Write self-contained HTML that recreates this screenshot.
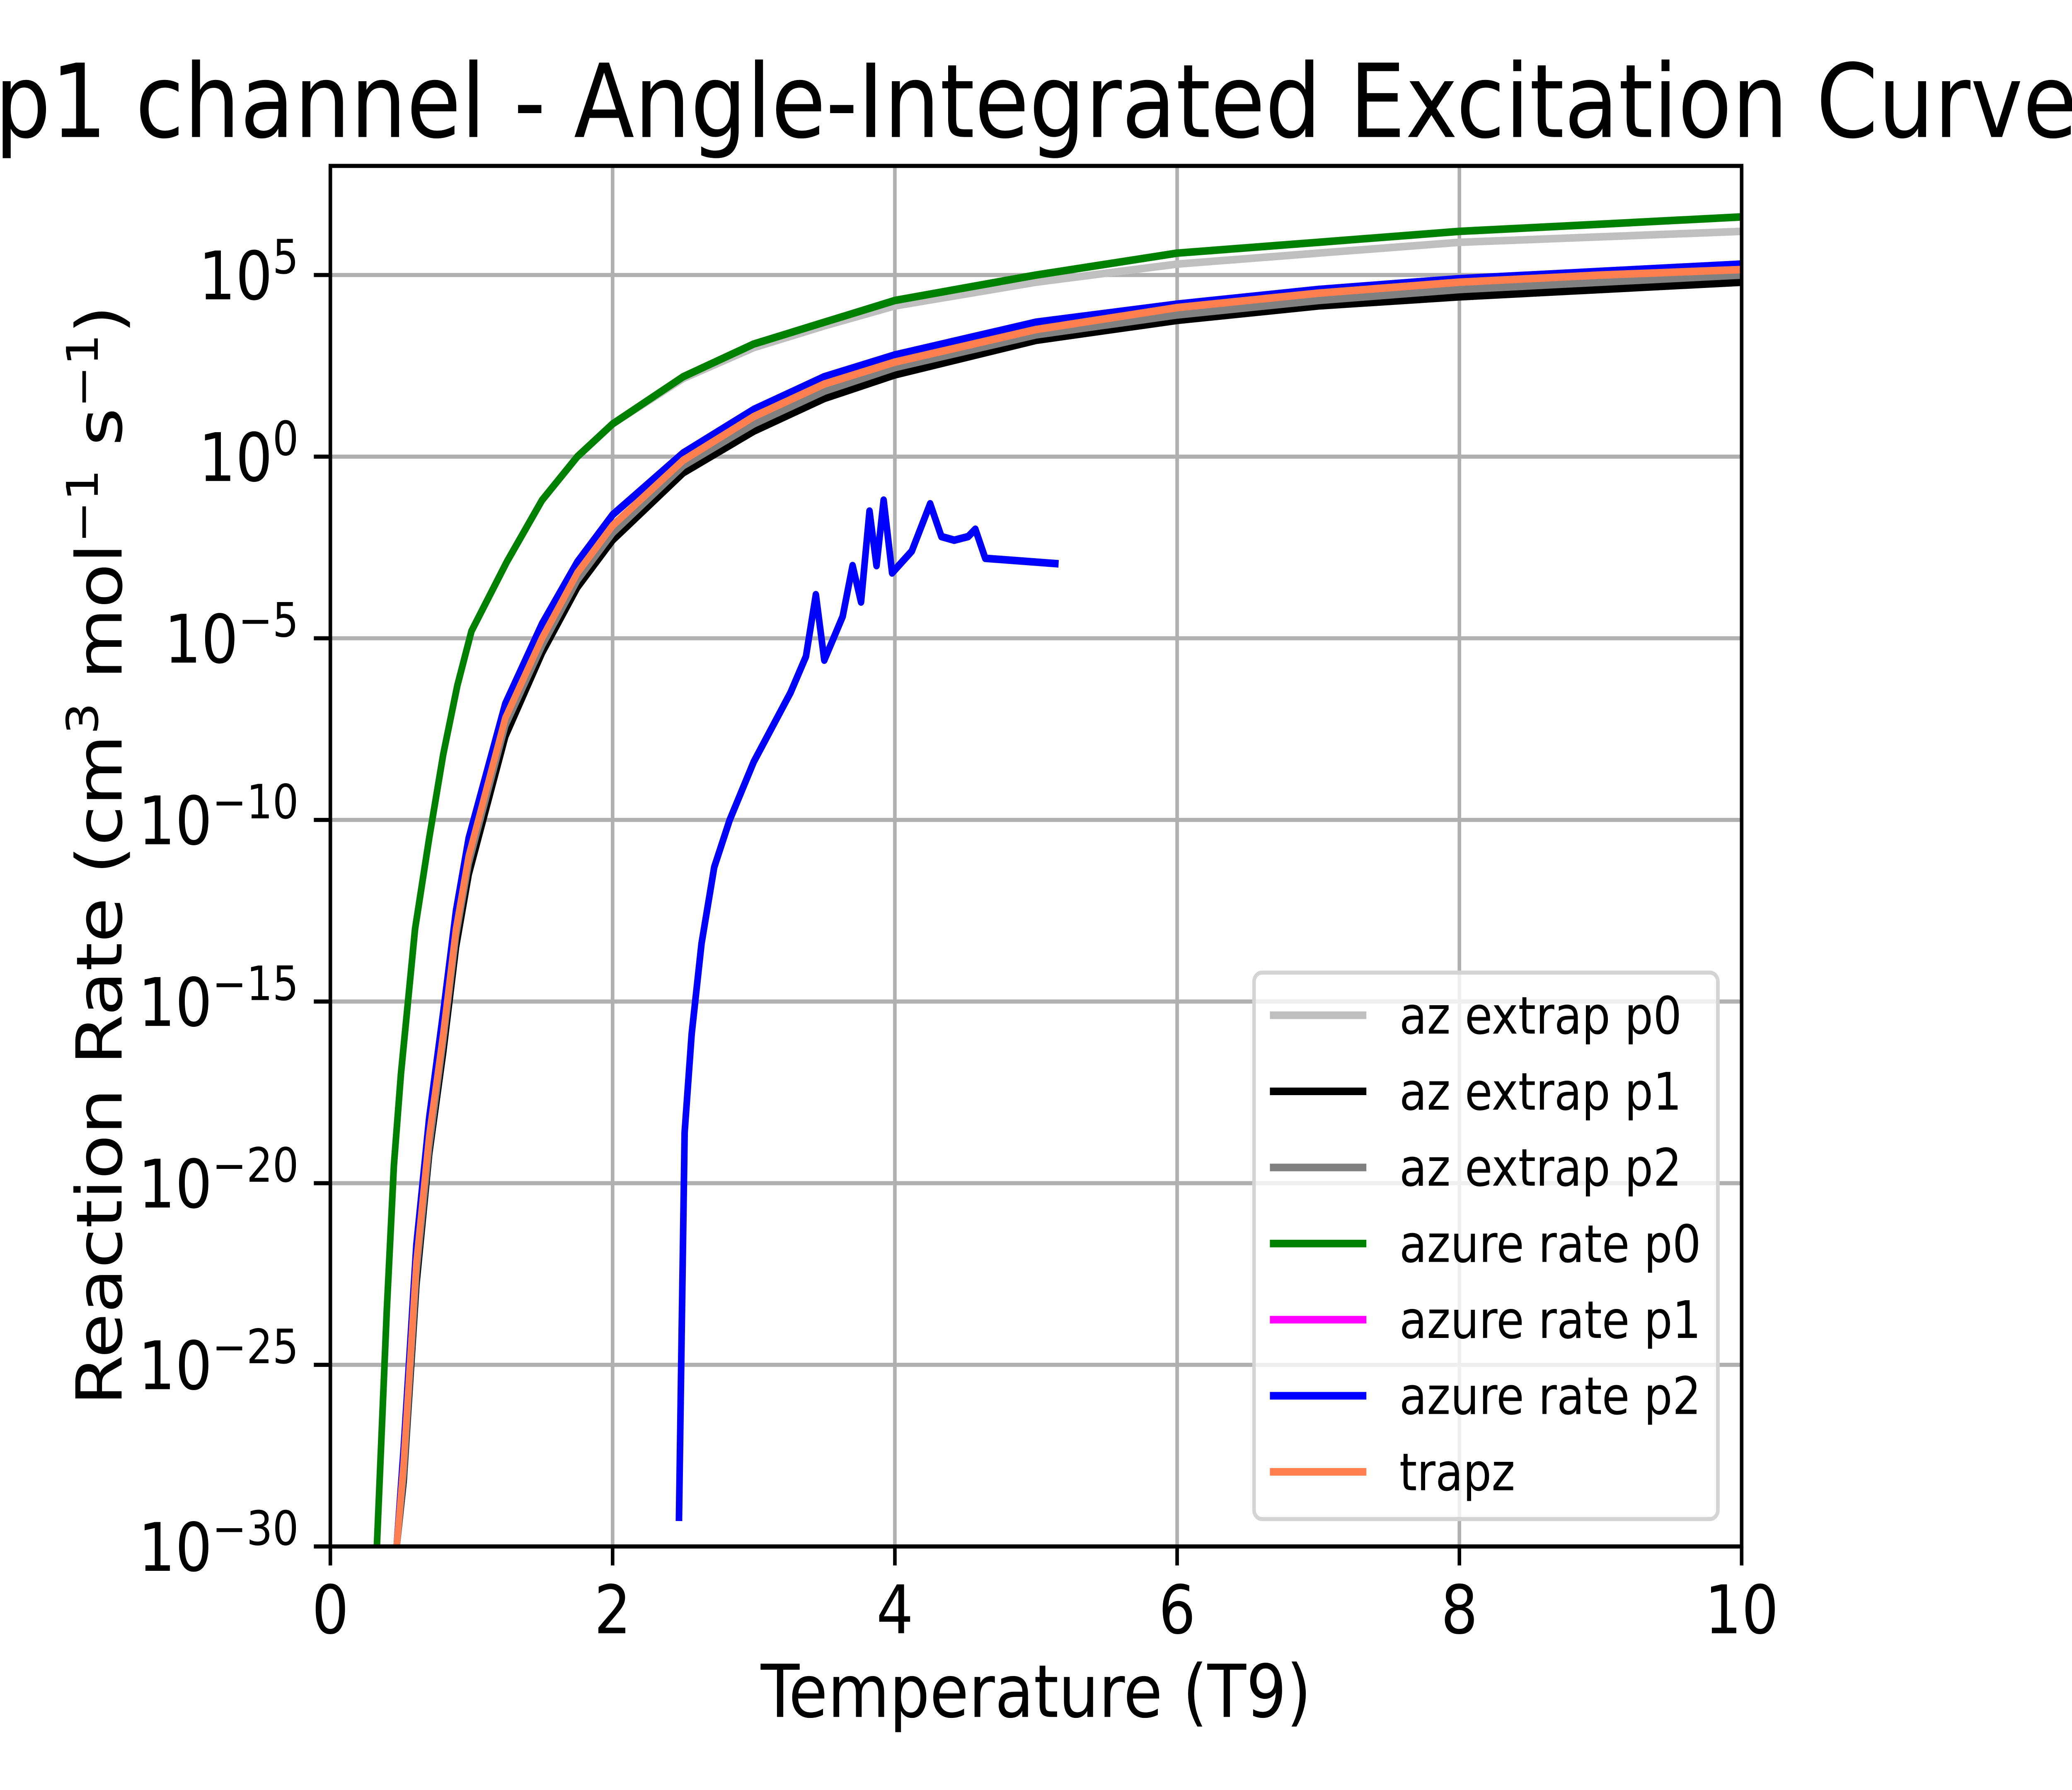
<!DOCTYPE html>
<html><head><meta charset="utf-8"><style>
html,body{margin:0;padding:0;background:#fff;overflow:hidden;width:100%;height:100%}
svg{display:block;width:100vw;height:100vh}
text{font-family:"DejaVu Sans","Liberation Sans",sans-serif}
</style></head><body>
<svg id="chart" xmlns="http://www.w3.org/2000/svg" viewBox="0 0 1568 1176" preserveAspectRatio="none">
<defs><clipPath id="clip"><rect x="250" y="109" width="1068" height="907"/></clipPath></defs>
<rect width="1568" height="1176" fill="#fff"/>
<text x="784" y="90" font-size="67" text-anchor="middle">p1 channel - Angle-Integrated Excitation Curve</text>
<g id="grid"></g>
<g id="series" clip-path="url(#clip)"></g>
<g id="legend"></g>
<rect x="250" y="109" width="1068" height="907" fill="none" stroke="#000" stroke-width="2.7"/>
<g id="ticks"></g>
<text x="784" y="1128" font-size="48" text-anchor="middle">Temperature (T9)</text>
<text transform="translate(92,562) rotate(-90)" font-size="48" text-anchor="middle">Reaction Rate (cm<tspan dy="-18" font-size="33">3</tspan><tspan dy="18"> mol</tspan><tspan dy="-18" font-size="33">−1</tspan><tspan dy="18"> s</tspan><tspan dy="-18" font-size="33">−1</tspan><tspan dy="18">)</tspan></text>
</svg>
<script>
const xTicks=[0,2,4,6,8,10];
const yTicks=[-30,-25,-20,-15,-10,-5,0,5];
const tGreen=[0.33,0.4,0.45,0.5,0.6,0.7,0.8,0.9,1.0,1.25,1.5,1.75,2,2.5,3,3.5,4,5,6,7,8,9,10];
const azureP0=[-30,-23.5,-19.5,-17,-13,-10.5,-8.2,-6.3,-4.8,-2.9,-1.2,0,0.9,2.2,3.1,3.7,4.3,5.0,5.6,5.9,6.2,6.4,6.6];
const azExtrapP0=[-30,-23.5,-19.5,-17,-13,-10.5,-8.2,-6.3,-4.8,-2.9,-1.2,0,0.9,2.15,3.0,3.6,4.15,4.8,5.3,5.6,5.9,6.05,6.2];
const tLow=[0.47,0.52,0.61,0.70,0.80,0.89,0.98,1.24,1.5,1.75,2,2.5,3,3.5,4,5,6,7,8,9,10];
const trapz=[-30,-27.7,-22.2,-18.7,-15.9,-13,-11,-7.2,-5,-3.2,-1.9,-0.1,1.1,2.0,2.6,3.5,4.1,4.5,4.8,5.0,5.15];
const azExtrapP1=[-30,-28.2,-22.8,-19.2,-16.4,-13.5,-11.5,-7.7,-5.4,-3.6,-2.3,-0.45,0.7,1.6,2.25,3.2,3.75,4.15,4.4,4.6,4.8];
const azExtrapP2=[-30,-28,-22.5,-19,-16.1,-13.2,-11.2,-7.4,-5.2,-3.4,-2.1,-0.25,0.9,1.8,2.45,3.35,3.9,4.3,4.6,4.8,5.0];
const azureP2=[-30,-27.3,-21.7,-18.2,-15.3,-12.5,-10.5,-6.8,-4.6,-2.9,-1.6,0.1,1.3,2.2,2.8,3.7,4.2,4.6,4.9,5.1,5.3];
const azureP1=azureP2;
const tNoisy=[2.47,2.49,2.51,2.56,2.63,2.72,2.83,3.0,3.26,3.37,3.44,3.5,3.63,3.70,3.76,3.82,3.87,3.92,3.98,4.12,4.25,4.33,4.42,4.52,4.57,4.64,5.16];
const noisyP2=[-29.3,-24,-18.6,-15.9,-13.4,-11.3,-10,-8.4,-6.5,-5.5,-3.8,-5.6,-4.4,-3.0,-4.0,-1.5,-3.0,-1.2,-3.2,-2.6,-1.3,-2.2,-2.3,-2.2,-2.0,-2.8,-2.95];

const X0=250,X1=1318,Y0=1016,YTOP=109;
const xs=t=>X0+(t-0)/10*(X1-X0);
const ys=l=>Y0-(l+30)*((1016-300)/30);
const NS="http://www.w3.org/2000/svg";
function mk(tag,attrs,parent){const e=document.createElementNS(NS,tag);for(const k in attrs)e.setAttribute(k,attrs[k]);parent.appendChild(e);return e;}
const grid=document.getElementById('grid'),ticks=document.getElementById('ticks');
xTicks.forEach(v=>{
  const gl=mk('line',{x1:xs(v),x2:xs(v),y1:YTOP,y2:Y0,stroke:'#b0b0b0','stroke-width':2.7},grid);
  
  
  const tk=mk('line',{x1:xs(v),x2:xs(v),y1:Y0,y2:Y0+12.5,stroke:'#000','stroke-width':2.7},ticks);
  
  
  const tx=mk('text',{x:xs(v),y:Y0+57,'font-size':44,'text-anchor':'middle'},ticks);
  tx.textContent=v;
  
  
});
yTicks.forEach(v=>{
  const y=ys(v);
  const gl=mk('line',{x1:X0,x2:X1,y1:y,y2:y,stroke:'#b0b0b0','stroke-width':2.7},grid);
  
  
  const tk=mk('line',{x1:X0-12.5,x2:X0,y1:y,y2:y,stroke:'#000','stroke-width':2.7},ticks);
  
  
  const tx=mk('text',{x:X0-24,y:y+16,'font-size':44,'text-anchor':'end'},ticks);
  const exp=String(v).replace('-','−');
  tx.innerHTML='10<tspan dy="-17" font-size="31">'+exp+'</tspan>';
  
  
});
const series=document.getElementById('series');
function line(ts,vals,color,name){
  const d=ts.map((t,i)=>(i?'L':'M')+xs(t).toFixed(1)+','+ys(vals[i]).toFixed(1)).join(' ');
  const p=mk('path',{d:d,fill:'none',stroke:color,'stroke-width':5,'stroke-linejoin':'round'},series);
  
  
}
line(tGreen,azExtrapP0,'#bfbfbf','az-extrap-p0-line');
line(tLow,azExtrapP1,'#000000','az-extrap-p1-line');
line(tLow,azExtrapP2,'#808080','az-extrap-p2-line');
line(tGreen,azureP0,'#008000','azure-rate-p0-line');
line(tLow,azureP1,'#ff00ff','azure-rate-p1-line');
line(tLow,azureP2,'#0000ff','azure-rate-p2-line');
line(tNoisy,noisyP2,'#0000ff','azure-rate-p2-noisy-line');
line(tLow,trapz,'#ff7f50','trapz-line');

const legendItems=['az extrap p0','az extrap p1','az extrap p2','azure rate p0','azure rate p1','azure rate p2','trapz'];
const legendColors=['#bfbfbf','#000000','#808080','#008000','#ff00ff','#0000ff','#ff7f50'];
const lg=document.getElementById('legend');
const box=mk('rect',{x:949,y:639,width:351,height:359,rx:6,fill:'#fff','fill-opacity':0.8,stroke:'#d4d4d4','stroke-width':2.7},lg);


legendItems.forEach((s,i)=>{
  const y=667+i*50;
  const l=mk('line',{x1:961,x2:1034,y1:y,y2:y,stroke:legendColors[i],'stroke-width':5},lg);
  
  
  const t=mk('text',{x:1059,y:y+12,'font-size':34},lg);
  t.textContent=s;
  
  
});
</script>
</body></html>
